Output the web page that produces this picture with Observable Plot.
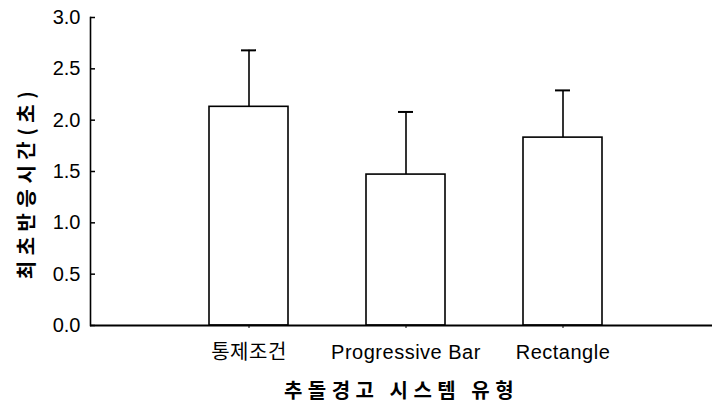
<!DOCTYPE html>
<html>
<head>
<meta charset="utf-8">
<script src="https://cdn.jsdelivr.net/npm/d3@7"></script>
<script src="https://cdn.jsdelivr.net/npm/@observablehq/plot@0.6"></script>
<style>
  html, body { margin: 0; padding: 0; background: #fff; }
  .chart g[aria-label="text"] text,
  .chart g[aria-label="x-axis label"] text {
    font-family: "Noto Sans CJK KR", sans-serif;
    font-weight: bold;
  }
  .chart g[aria-label="text"] text { letter-spacing: 5.5px; }
  .chart g[aria-label="x-axis label"] text { letter-spacing: 5.5px; }
  .chart g[aria-label="x-axis tick label"] text { letter-spacing: 0.5px; }
</style>
</head>
<body>
<div id="chart"></div>
<script>
const categories = ["통제조건", "Progressive Bar", "Rectangle"];
const means = [2.13, 1.47, 1.83];
const sds = [0.55, 0.61, 0.46];
const yTicks = [0, 0.5, 1.0, 1.5, 2.0, 2.5, 3.0];
const yTitle = "최초반응시간(초)";
const xTitle = "추돌경고 시스템 유형";

const data = categories.map((c, i) => ({cat: c, mean: means[i], top: means[i] + sds[i]}));

const chart = Plot.plot({
  className: "chart",
  width: 712,
  height: 404,
  marginLeft: 90,
  marginRight: 0,
  marginTop: 17,
  marginBottom: 79,
  style: {
    fontFamily: "'Liberation Sans', Arial, 'Noto Sans CJK KR', sans-serif",
    fontSize: "20px",
    color: "#000",
    background: "#fff"
  },
  x: {domain: categories, range: [90, 721], paddingInner: 0.5, paddingOuter: 0.747},
  y: {domain: [0, 3], ticks: yTicks},
  marks: [
    Plot.barY(data, {x: "cat", y: "mean", fill: "#fff", stroke: "#000", strokeWidth: 1.6}),
    Plot.ruleX(data, {x: "cat", y1: "mean", y2: "top", stroke: "#000", strokeWidth: 1.6}),
    Plot.tickY(data, {x: "cat", y: "top", stroke: "#000", strokeWidth: 2, insetLeft: 32, insetRight: 32}),
    Plot.axisY({
      ticks: yTicks,
      tickFormat: d3.format(".1f"),
      tickSize: 0,
      tickPadding: 10,
      label: null
    }),
    Plot.ruleY(yTicks, {stroke: "#000", strokeWidth: 1.5, insetRight: 617}),
    Plot.text([yTitle], {
      frameAnchor: "left",
      textAnchor: "middle",
      lineAnchor: "middle",
      rotate: -90,
      dx: -63,
      dy: 11,
      fontSize: 20,
      fontWeight: "bold"
    }),
    Plot.axisX({
      tickSize: 3,
      tickPadding: 16,
      label: xTitle,
      labelAnchor: "center",
      labelArrow: "none",
      labelOffset: 72
    }),
    Plot.frame({anchor: "left", stroke: "#000", strokeWidth: 1.6}),
    Plot.ruleY([0], {stroke: "#000", strokeWidth: 1.8})
  ]
});
document.getElementById("chart").appendChild(chart);
</script>
</body>
</html>
